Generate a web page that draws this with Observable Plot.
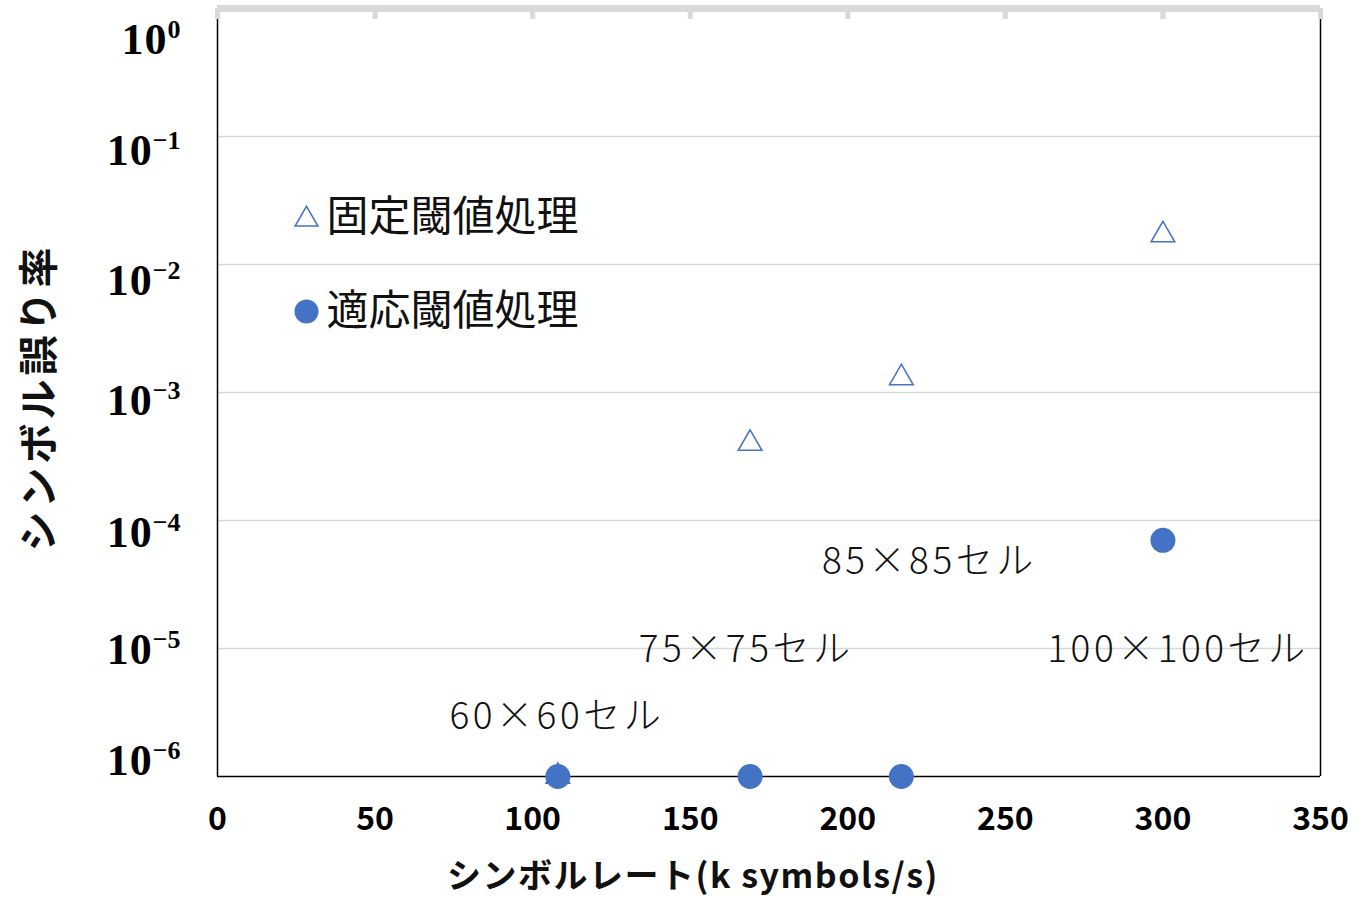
<!DOCTYPE html>
<html>
<head>
<meta charset="utf-8">
<script src="https://cdn.jsdelivr.net/npm/d3@7"></script>
<script src="https://cdn.jsdelivr.net/npm/@observablehq/plot@0.6"></script>
<style>
  body { margin: 0; background: #fff; }
  #chart svg g[aria-label="x-axis tick label"] { font-weight: bold; }
</style>
</head>
<body>
<div id="chart"></div>
<script>
// Symbol rate (k symbols/s) for each cell layout
const rates = [108, 169, 217, 300];
const cellLabels = ["60×60セル", "75×75セル", "85×85セル", "100×100セル"];
// Symbol error rate per method
const fixedBER = [1e-6, 4.0e-4, 1.3e-3, 1.7e-2];
const adaptiveBER = [1e-6, 1e-6, 1e-6, 7e-5];
const seriesNames = ["固定閾値処理", "適応閾値処理"];
const xTicks = [0, 50, 100, 150, 200, 250, 300, 350];
const yTicks = [1e-6, 1e-5, 1e-4, 1e-3, 1e-2, 1e-1, 1];
const xTitle = "シンボルレート(k symbols/s)";
const yTitle = "シンボル誤り率";

const blue = "#4472C4";
const grid = "#d9d9d9";

const fixedRows = rates.map((r, i) => ({rate: r, ber: fixedBER[i]}));
const adaptiveRows = rates.map((r, i) => ({rate: r, ber: adaptiveBER[i]}));

// label placement relative to the bottom of the frame at each rate
const labelOffsets = [[-1, -59], [-4, -126], [28, -214], [15, -126]];
const labelMarks = rates.map((r, i) => Plot.text([{rate: r, label: cellLabels[i]}], {
  x: "rate", text: "label", frameAnchor: "bottom", lineAnchor: "middle",
  dx: labelOffsets[i][0], dy: labelOffsets[i][1],
  fontSize: 37, fontWeight: 300, fill: "#111"
}));

const sup = d => {
  const e = Math.round(Math.log10(d));
  return "10|" + (e < 0 ? "\u2212" + (-e) : String(e));
};
// vertical nudge of each decade label, by exponent
const decadeShift = {"0": 31, "−1": 14, "−2": 16, "−3": 8, "−4": 12, "−5": 1, "−6": -16};

const chart = Plot.plot({
  width: 1369,
  height: 898,
  marginLeft: 217,
  marginRight: 49,
  marginTop: 8,
  marginBottom: 122,
  style: {fontFamily: "'Noto Sans CJK JP', 'Noto Sans', sans-serif", background: "white", color: "black"},
  x: {domain: [0, 350]},
  y: {type: "log", domain: [1e-6, 1]},
  marks: [
    Plot.ruleY(yTicks.filter(v => v > 1e-6 && v < 1), {stroke: grid, strokeWidth: 1.5}),
    Plot.ruleX([0, 350], {stroke: "black", strokeWidth: 1.5}),
    Plot.ruleY([1e-6], {stroke: "black", strokeWidth: 1.5}),
    // light top axis with inward ticks
    Plot.ruleX(xTicks, {x: d => d, stroke: grid, strokeWidth: 5, insetBottom: 757}),
    Plot.ruleY([1], {stroke: grid, strokeWidth: 7}),
    Plot.axisX({ticks: xTicks, tickSize: 0, tickPadding: 31, fontSize: 32, label: null, tickFormat: d => String(d)}),
    Plot.axisY({ticks: yTicks, tickSize: 0, tickPadding: 37, fontSize: 44, label: null, tickFormat: sup,
      fontFamily: "'Liberation Serif', 'DejaVu Serif', serif", fontWeight: "bold"}),
    Plot.dot(fixedRows, {x: "rate", y: "ber", symbol: "triangle", r: 8.8, stroke: blue, fill: "white", strokeWidth: 1.5}),
    Plot.dot(adaptiveRows, {x: "rate", y: "ber", r: 12.5, fill: blue}),
    ...labelMarks,
    // legend
    Plot.dot([seriesNames[0]], {frameAnchor: "top-left", dx: 89, dy: 211, symbol: "triangle", r: 8.5, stroke: blue, fill: "white", strokeWidth: 1.5}),
    Plot.dot([seriesNames[1]], {frameAnchor: "top-left", dx: 89, dy: 303, r: 12, fill: blue}),
    Plot.text([seriesNames[0]], {frameAnchor: "top-left", lineAnchor: "middle", dx: 109, dy: 209, text: d => d, textAnchor: "start", fontSize: 42, fill: "#111"}),
    Plot.text([seriesNames[1]], {frameAnchor: "top-left", lineAnchor: "middle", dx: 109, dy: 303, text: d => d, textAnchor: "start", fontSize: 42, fill: "#111"}),
    // axis titles
    Plot.text([xTitle], {frameAnchor: "bottom", lineAnchor: "middle", dx: -76, dy: 101, text: d => d, fontSize: 34, fontWeight: "bold", fill: "#111"}),
    Plot.text([yTitle], {frameAnchor: "left", lineAnchor: "middle", textAnchor: "middle", dx: -177, dy: 5, rotate: -90, text: d => d, fontSize: 40, fontWeight: "bold", fill: "#111"})
  ]
});

// superscript exponents on the log-axis tick labels
const ns = "http://www.w3.org/2000/svg";
chart.querySelectorAll('g[aria-label="y-axis tick label"] text').forEach(t => {
  const [base, exp] = t.textContent.split("|");
  t.textContent = "";
  const a = document.createElementNS(ns, "tspan");
  a.textContent = base;
  a.setAttribute("dy", String(decadeShift[exp] ?? 0));
  a.setAttribute("letter-spacing", "1");
  const b = document.createElementNS(ns, "tspan");
  b.setAttribute("dy", "-16");
  b.setAttribute("font-size", "26");
  b.textContent = exp;
  t.appendChild(a);
  t.appendChild(b);
});

// letter spacing for the cell labels and axis titles
const spacing = new Map([...cellLabels.map(s => [s, "3.5px"]), [xTitle, "1.5px"], [yTitle, "4px"]]);
chart.querySelectorAll("text").forEach(t => {
  const s = spacing.get(t.textContent);
  if (s) t.style.letterSpacing = s;
});

document.getElementById("chart").appendChild(chart);
</script>
</body>
</html>
